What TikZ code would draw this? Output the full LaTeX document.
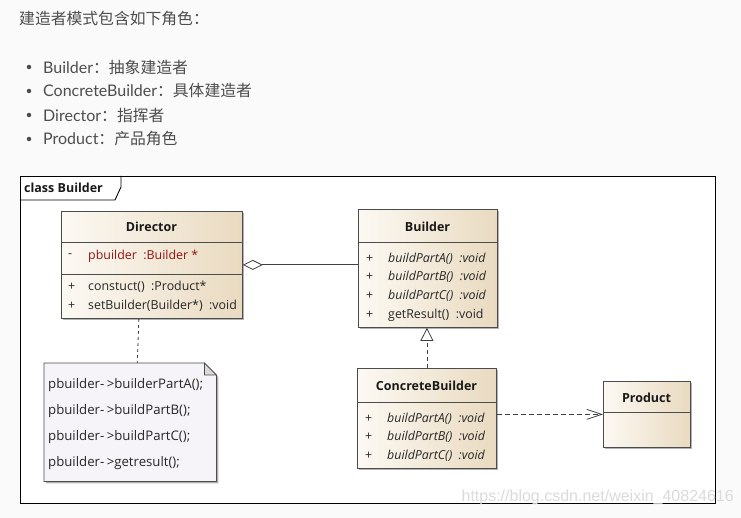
\documentclass[tikz,border=0pt]{standalone}
\usepackage{fontspec}
\setmainfont{Lato}
\newfontfamily\cjk{Noto Sans CJK SC}
\newfontfamily\umlfont{Open Sans}
\newfontfamily\markfont{Liberation Sans}
\usetikzlibrary{arrows.meta,shadows}
\definecolor{pagegray}{RGB}{250,250,250}
\definecolor{csdntext}{RGB}{77,77,77}
\definecolor{clslight}{RGB}{252,249,243}
\definecolor{clsdark}{RGB}{233,218,192}
\definecolor{attrred}{RGB}{145,20,20}
\definecolor{notefill}{RGB}{246,244,248}

\tikzset{
  classbox/.style={draw=black!70, line width=0.8pt, left color=clslight, right color=clsdark,
    drop shadow={shadow xshift=2pt, shadow yshift=-2pt, fill=black!50, opacity=0.6},
    anchor=north west, inner sep=0pt},
  sepline/.style={draw=black!70, line width=0.8pt},
  classname/.style={font=\umlfont\fontsize{12.5}{15}\selectfont\bfseries, text=black!90, inner sep=0pt},
  member/.style={font=\umlfont\fontsize{12.4}{15}\selectfont, text=black!85, anchor=west, inner sep=0pt},
  abstractop/.style={member, font=\umlfont\fontsize{12.4}{15}\selectfont\itshape},
  notetext/.style={member, font=\umlfont\fontsize{13.2}{15}\selectfont},
  noteline/.style={draw=black!70, line width=0.8pt, fill=notefill},
  frameline/.style={draw=black, line width=0.9pt},
  aggline/.style={{Diamond[open, length=20pt, width=10pt]}-, draw=black!75, line width=0.8pt},
  realizeline/.style={-{Triangle[open, length=13pt, width=13pt]}, draw=black!75, line width=0.8pt, dash pattern=on 4pt off 3pt},
  depline/.style={-{Straight Barb[length=15pt, width=10pt]}, draw=black!75, line width=0.8pt, dash pattern=on 5pt off 3pt},
  notelink/.style={draw=black!75, line width=0.8pt, dash pattern=on 3pt off 3pt},
  bulletdot/.style={circle, fill=csdntext, inner sep=0pt, minimum size=4.5pt},
  roleitem/.style={anchor=west, inner sep=0pt, text=csdntext, font=\fontsize{16}{19}\selectfont}
}

\begin{document}
\begin{tikzpicture}[x=1pt, y=-1pt]
    \useasboundingbox[fill=pagegray] (0,0) rectangle (741,518);

    % intro text
    \node[roleitem, font=\cjk\fontsize{15.8}{19}\selectfont] (intro) at (19,19) {建造者模式包含如下角色：};
    \foreach \y/\role/\desc [count=\i] in {67/Builder/抽象建造者, 91/ConcreteBuilder/具体建造者, 115/Director/指挥者, 139/Product/产品角色} {
        \node[bulletdot] (dot\i) at (29,\y) {};
        \node[roleitem] (role\i) at (43,\y) {\role{\cjk\fontsize{15.8}{19}\selectfont ：\desc}};
    }

    % diagram frame
    \draw[frameline, fill=white] (20,176) rectangle (715,503);
    \draw[frameline] (20,200) -- (115,200) -- (121,187) -- (121,176);
    \node[classname, anchor=west] (frametitle) at (24,188) {class Builder};

    % Director
    \node[classbox, minimum width=181pt, minimum height=107pt] (director) at (61,211) {};
    \draw[sepline] (director.west |- 0,242) -- (director.east |- 0,242);
    \draw[sepline] (director.west |- 0,274) -- (director.east |- 0,274);
    \node[classname] (directorname) at (151.5,227) {Director};
    \node[member] (dirattrvis) at (68,256) {-};
    \node[member, text=attrred] (dirattr) at (88,256) {pbuilder\ \ :Builder *};
    \node[member] (dirop1vis) at (68,287) {+};
    \node[member] (dirop1) at (88,287) {constuct()\ \ :Product*};
    \node[member] (dirop2vis) at (68,306) {+};
    \node[member] (dirop2) at (88,306) {setBuilder(Builder*)\ \ :void};

    % Builder
    \node[classbox, minimum width=139pt, minimum height=118pt] (builder) at (358,209) {};
    \draw[sepline] (builder.west |- 0,242) -- (builder.east |- 0,242);
    \node[classname] (buildername) at (427.5,227) {Builder};
    \foreach \y/\part in {259/A, 277/B, 296/C} {
        \node[member] (bopvis\part) at (366,\y) {+};
        \node[abstractop] (bop\part) at (388,\y) {buildPart\part()\ \ :void};
    }
    \node[member] (bopvisR) at (366,315) {+};
    \node[member] (bopR) at (388,315) {getResult()\ \ :void};

    % ConcreteBuilder
    \node[classbox, minimum width=139pt, minimum height=100pt] (concrete) at (357,368) {};
    \draw[sepline] (concrete.west |- 0,402) -- (concrete.east |- 0,402);
    \node[classname] (concretename) at (426.5,386) {ConcreteBuilder};
    \foreach \y/\part in {419/A, 437/B, 456/C} {
        \node[member] (copvis\part) at (365,\y) {+};
        \node[abstractop] (cop\part) at (387,\y) {buildPart\part()\ \ :void};
    }

    % Product
    \node[classbox, minimum width=87pt, minimum height=66pt] (product) at (603,381) {};
    \draw[sepline] (product.west |- 0,412) -- (product.east |- 0,412);
    \node[classname] (productname) at (646.5,398) {Product};

    % note
    \node[anchor=north west, inner sep=0pt, minimum width=172pt, minimum height=118pt] (note) at (44,363) {};
    \draw[noteline, drop shadow={shadow xshift=2pt, shadow yshift=-2pt, fill=black!50, opacity=0.6}]
        (note.north west) -- ([xshift=-12pt]note.north east) -- ([yshift=-12pt]note.north east)
        -- (note.south east) -- (note.south west) -- cycle;
    \draw[noteline, fill=black!15] ([xshift=-12pt]note.north east) -- ([xshift=-12pt, yshift=-12pt]note.north east)
        -- ([yshift=-12pt]note.north east) -- cycle;
    \foreach \y/\call [count=\i] in {385/builderPartA, 411/buildPartB, 437/buildPartC, 463/getresult} {
        \node[notetext] (noteline\i) at (48,\y) {pbuilder-\kern2.5pt>\call();};
    }

    % relations
    \draw[aggline] (director.east) -- (director.east -| builder.west);
    \draw[realizeline] (concrete.north) -- (concrete.north |- builder.south);
    \draw[depline] (product.west -| concrete.east) -- (product.west);
    \draw[notelink] ([xshift=-13pt]director.south) -- ([xshift=7pt]note.north);

    \node[anchor=east, inner sep=0pt, text=black!14, font=\markfont\fontsize{16}{18}\selectfont] (watermark) at (734,497) {https://blog.csdn.net/weixin\_40824616};
\end{tikzpicture}
\end{document}
